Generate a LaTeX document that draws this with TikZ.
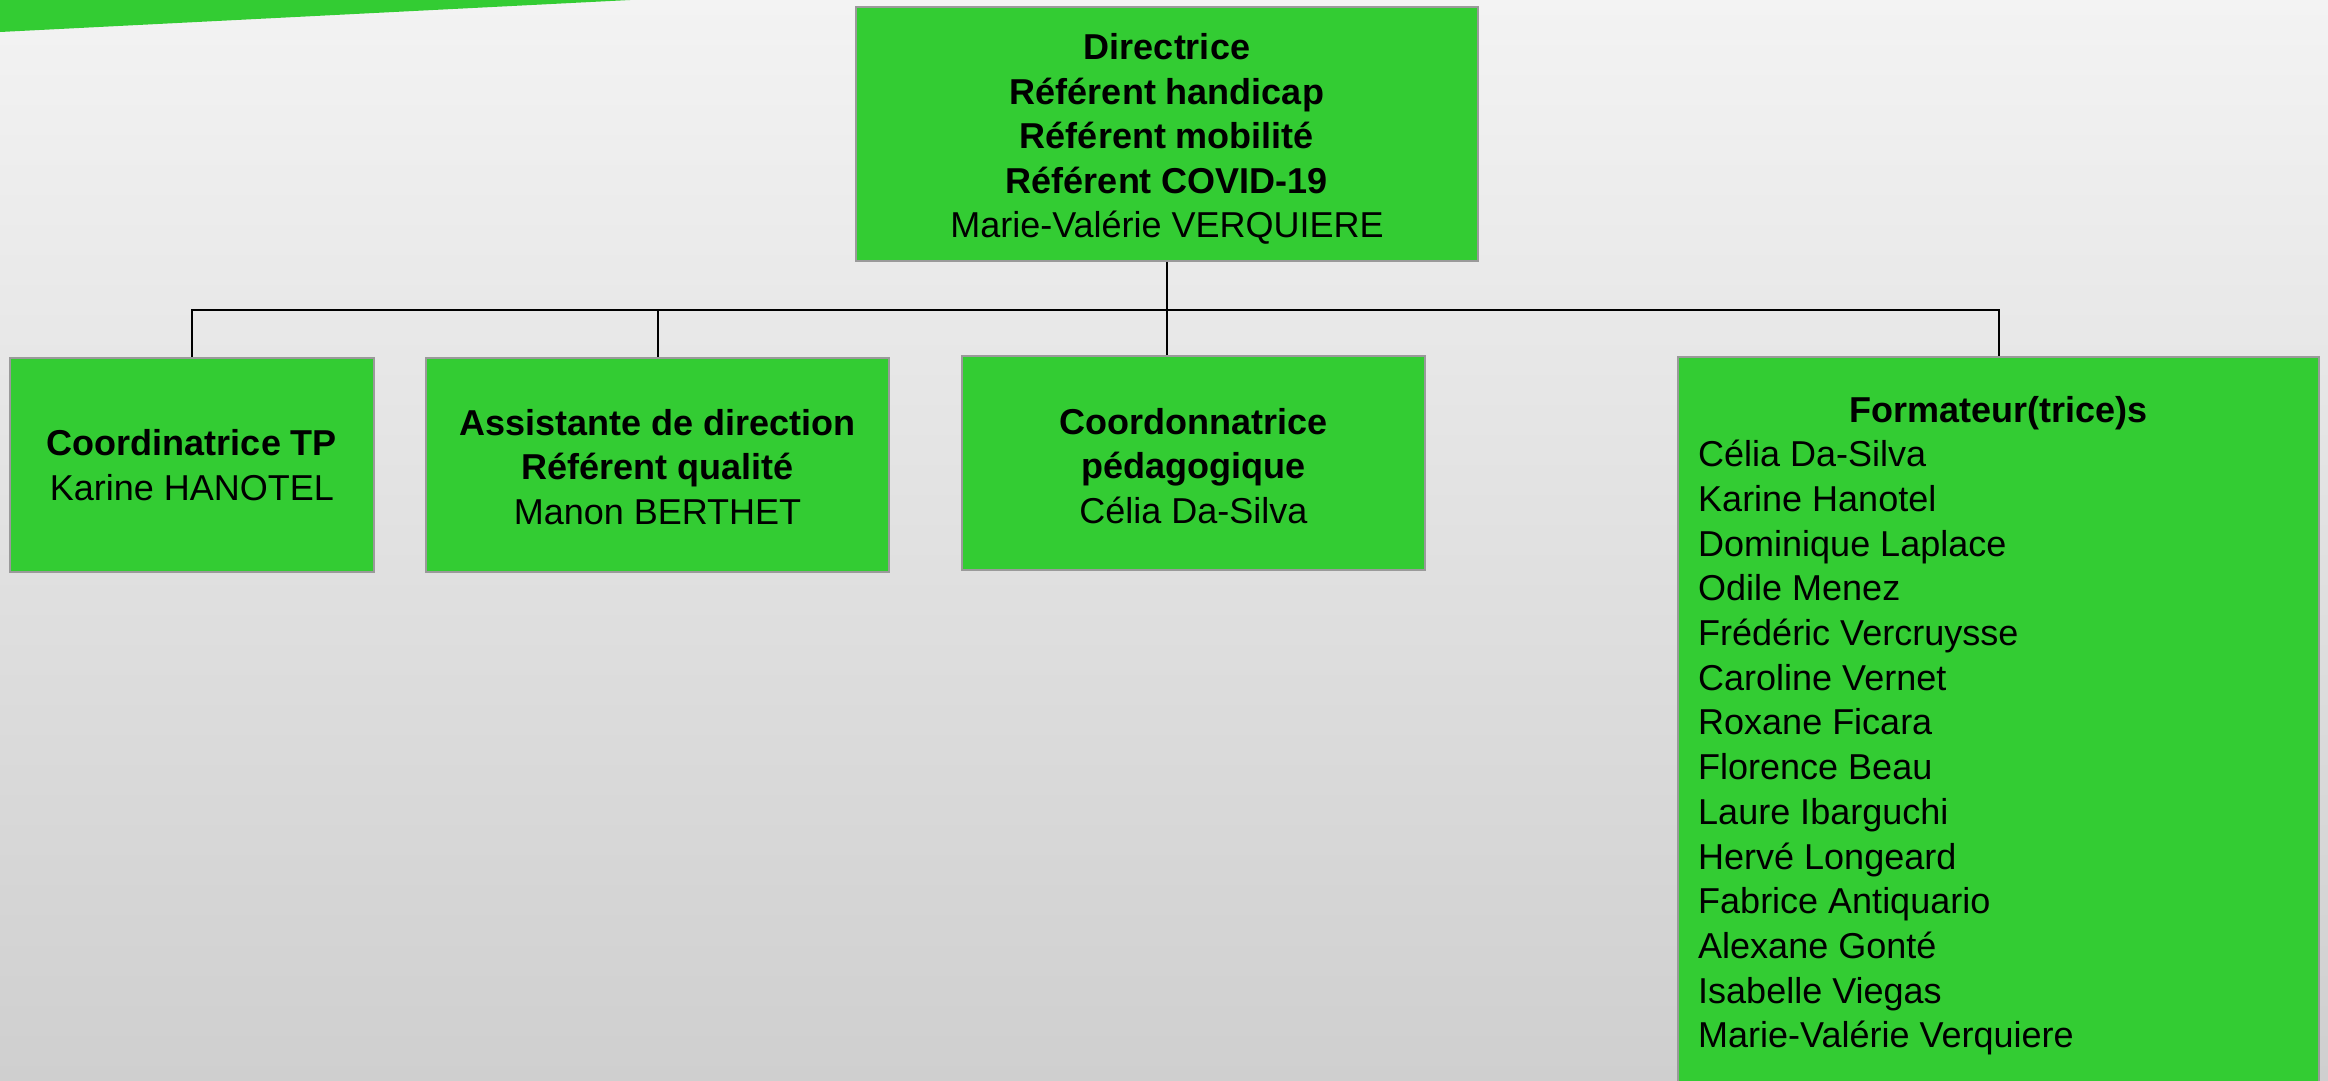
\documentclass[tikz,border=0pt]{standalone}
\usepackage{fontspec}
\setmainfont{Liberation Sans}
\definecolor{boxgreen}{HTML}{33CC33}
\definecolor{boxedge}{HTML}{9A9A9A}
\definecolor{bgtop}{HTML}{F3F3F3}
\definecolor{bgbot}{HTML}{CFCFCF}
\begin{document}
\begin{tikzpicture}[x=1pt,y=-1pt,
  orgbox/.style={draw=boxedge, fill=boxgreen, line width=1.6pt, inner sep=0pt,
    align=center, font=\fontsize{36}{44.5}\selectfont},
  txt/.style={inner sep=0pt, font=\fontsize{36}{44.5}\selectfont},
  link/.style={draw=black, line width=2pt}]
\useasboundingbox (0,0) rectangle (2328,1080);
\clip (0,0) rectangle (2328,1080);
\shade[top color=bgtop, bottom color=bgbot] (0,0) rectangle (2328,1080);
\fill[boxgreen] (0,0) -- (630,0) -- (0,32) -- cycle;

\node[orgbox, minimum width=622pt, minimum height=254pt] (top) at (1167,134)
  {\textbf{\rule{0pt}{36pt}Directrice}\\\textbf{Référent handicap}\\\textbf{Référent mobilité}\\\textbf{Référent COVID-19}\\Marie-Valérie VERQUIERE};
\node[orgbox, minimum width=364pt, minimum height=214pt] (b1) at (192,465)
  {\textbf{Coordinatrice TP}\\Karine HANOTEL};
\node[orgbox, minimum width=463pt, minimum height=214pt] (b2) at (657.5,465)
  {\textbf{\rule{0pt}{30pt}Assistante de direction}\\\textbf{Référent qualité}\\Manon BERTHET};
\node[orgbox, minimum width=463pt, minimum height=214pt] (b3) at (1193.5,463)
  {\textbf{\rule{0pt}{32pt}Coordonnatrice}\\\textbf{pédagogique}\\Célia Da-Silva};
\node[orgbox, minimum width=641pt, minimum height=744pt] (b4) at (1998.5,729) {};

\node[txt, anchor=base] (b4title) at (1998.5,422) {\textbf{Formateur(trice)s}};
\foreach \n [count=\i] in {Célia Da-Silva, Karine Hanotel, Dominique Laplace, Odile Menez,
  Frédéric Vercruysse, Caroline Vernet, Roxane Ficara, Florence Beau, Laure Ibarguchi,
  Hervé Longeard, Fabrice Antiquario, Alexane Gonté, Isabelle Viegas, Marie-Valérie Verquiere}
  \node[txt, anchor=base west] (name\i) at (1698,{422+44.7*\i}) {\n};

\path (top.south) ++(0,48) coordinate (bus);
\draw[link] (top.south) -- (bus);
\draw[link] (b1.north) |- (bus) -| (b4.north);
\draw[link] (b2.north) -- (b2.north |- bus);
\draw[link] (bus) -- (bus |- b3.north);
\end{tikzpicture}
\end{document}
